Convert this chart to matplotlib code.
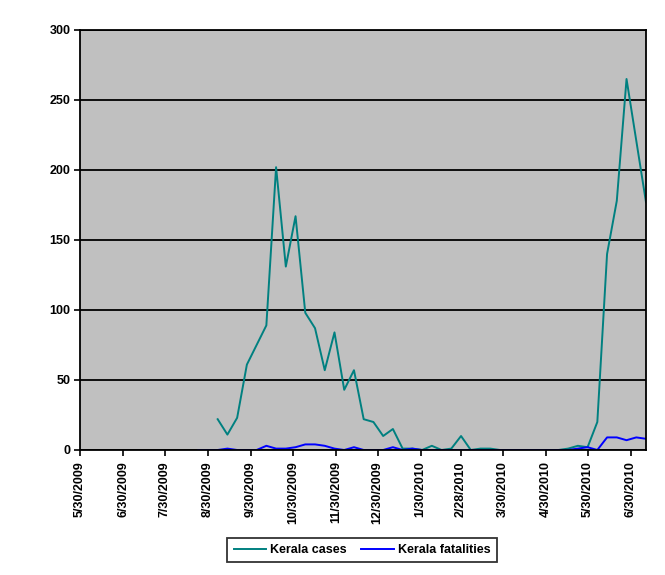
import matplotlib
matplotlib.use("Agg")
import matplotlib.pyplot as plt
import matplotlib.dates as mdates
import pandas as pd

# Weekly Kerala H1N1 data
cases_start = "2009-09-06"
cases = [22, 11, 23, 61, 75, 89, 202, 131, 167, 98, 87, 57, 84, 43, 57, 22, 20, 10, 15,
         1, 1, 0, 3, 0, 1, 10, 0, 1, 1, 0, 0, 0, 0, 0, 0, 0, 1, 3, 2, 20, 140, 178, 265, 221, 177]
fatal_start = "2009-08-23"
fatalities = [0, 0, 0, 1, 0, 0, 0, 3, 1, 1, 2, 4, 4, 3, 1, 0, 2, 0, 0, 0, 2, 0, 1, 0,
              0, 0, 0, 0, 0, 0, 0, 0, 0, 0, 0, 0, 0, 0, 0, 1, 2, 0, 9, 9, 7, 9, 8]

tick_dates = ["2009-05-30", "2009-06-30", "2009-07-30", "2009-08-30", "2009-09-30",
              "2009-10-30", "2009-11-30", "2009-12-30", "2010-01-30", "2010-02-28",
              "2010-03-30", "2010-04-30", "2010-05-30", "2010-06-30"]
tick_labels = ["5/30/2009", "6/30/2009", "7/30/2009", "8/30/2009", "9/30/2009",
               "10/30/2009", "11/30/2009", "12/30/2009", "1/30/2010", "2/28/2010",
               "3/30/2010", "4/30/2010", "5/30/2010", "6/30/2010"]
y_ticks = [0, 50, 100, 150, 200, 250, 300]

cases_dates = pd.date_range(cases_start, periods=len(cases), freq="7D")
fatal_dates = pd.date_range(fatal_start, periods=len(fatalities), freq="7D")

plt.rcParams['font.family'] = ['Liberation Sans', 'DejaVu Sans']

fig = plt.figure(figsize=(6.65, 5.75), dpi=100)
ax = fig.add_axes([80/665, 125/575, 566/665, 420/575])
ax.set_facecolor("#C0C0C0")

l1, = ax.plot(cases_dates, cases, color="#008080", lw=1.4, label="Kerala cases")
l2, = ax.plot(fatal_dates, fatalities, color="#0000FF", lw=1.4, label="Kerala fatalities")

ax.set_ylim(0, 300)
ax.set_xlim(pd.Timestamp("2009-05-30"), pd.Timestamp(cases_dates[-1]))
ax.set_yticks(y_ticks)
ax.yaxis.grid(True, color="black", lw=1.3)
ax.set_axisbelow(True)

tick_pos = [mdates.date2num(pd.Timestamp(d)) for d in tick_dates]
ax.set_xticks(tick_pos)
ax.set_xticklabels(tick_labels, rotation=90, fontsize=9, fontweight="bold", va="top", ha="center")
for lab in ax.get_yticklabels():
    lab.set_fontweight("bold")
    lab.set_fontsize(9)

ax.tick_params(axis="both", direction="out", length=4, width=1.2, color="black", pad=3)
ax.tick_params(axis="x", pad=4)
for s in ax.spines.values():
    s.set_color("black")
    s.set_linewidth(1.3)

leg = fig.legend(handles=[l1, l2], loc="center", bbox_to_anchor=(362/665, 25/575), ncol=2,
                 frameon=True, fancybox=False, edgecolor="black", handlelength=2.6,
                 handletextpad=0.3, columnspacing=1.2, borderpad=0.5,
                 prop={"weight": "bold", "size": 9})
leg.get_frame().set_linewidth(1.3)

fig.savefig("out.png", dpi=100)
